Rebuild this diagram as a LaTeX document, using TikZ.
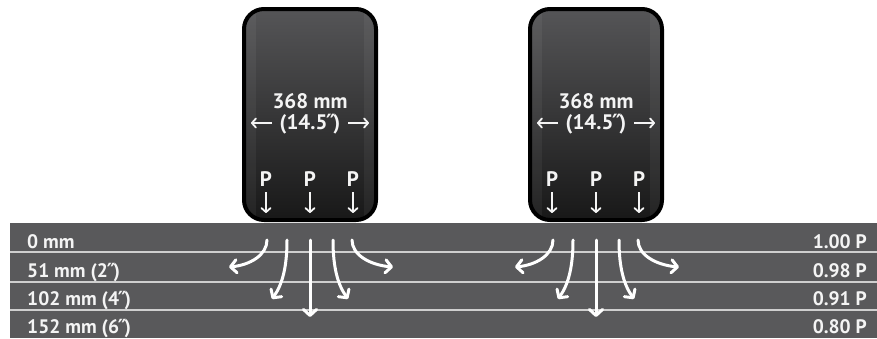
\documentclass[tikz,border=0pt]{standalone}
\usepackage{fontspec}
\setmainfont{PT Sans}
\newfontfamily\primefont{DejaVu Sans}
\newcommand{\inch}{\kern-0.06em{\primefont\bfseries ″}\kern-0.1em}
\usetikzlibrary{arrows.meta,calc}
\definecolor{band}{HTML}{59595B}
\definecolor{rule}{HTML}{CFCFCF}
\definecolor{ink}{HTML}{F4F4F4}
\definecolor{treadtop}{HTML}{555557}
\definecolor{treadmid}{HTML}{4A4A4C}
\definecolor{treadbot}{HTML}{181818}

\begin{document}
\begin{tikzpicture}[x=1pt,y=-1pt,
  lbl/.style={text=ink,font=\bfseries\fontsize{19.5}{21}\selectfont,inner sep=0pt},
  tirelbl/.style={text=ink,font=\bfseries\fontsize{21}{23}\selectfont,inner sep=0pt},
  flow/.style={draw=white,line width=3pt,line cap=round,
    -{Straight Barb[length=6pt,width=13pt,round]}},
  slim/.style={draw=ink,line width=1.8pt,
    -{Straight Barb[length=4pt,width=9pt,round]}},
  tire/.style={rounded corners=20pt}]
\useasboundingbox (0,0) rectangle (877,338);

% ground layers
\fill[band] (10,223) rectangle (877,338);
\foreach \y in {252,282,310}
  \draw[rule,line width=1.5pt] (10,\y) -- (877,\y);

% depth and pressure labels
\node[lbl,anchor=base west] (d0) at (27,248) {0 mm};
\node[lbl,anchor=base west] (d1) at (27,277) {51 mm (2\inch)};
\node[lbl,anchor=base west] (d2) at (27,305) {102 mm (4\inch)};
\node[lbl,anchor=base west] (d3) at (27,333) {152 mm (6\inch)};
\node[lbl,anchor=base east] (r0) at (867,248) {1.00 P};
\node[lbl,anchor=base east] (r1) at (867,277) {0.98 P};
\node[lbl,anchor=base east] (r2) at (867,305) {0.91 P};
\node[lbl,anchor=base east] (r3) at (867,333) {0.80 P};

% two tires with their load spread
\foreach \cx/\t in {310/a,596/b}{
  \begin{scope}[shift={(\cx,0)}]
    \shade[tire,top color=treadtop,middle color=treadmid,bottom color=treadbot]
      (-66,9) rectangle (66,220);
    \begin{scope}
      \clip[tire] (-66,9) rectangle (66,220);
      \fill[white,opacity=0.05] (-64,9) rectangle (-54,220);
      \fill[white,opacity=0.05] (54,9) rectangle (64,220);
    \end{scope}
    \draw[tire,black,line width=4pt] (-66,9) rectangle (66,220);

    \node[tirelbl,anchor=base] (w\t) at (0,108) {368 mm};
    \node[tirelbl,anchor=base] (q\t) at (0,129) {(14.5\inch)};
    % width arrows beside the tread width
    \coordinate (wls\t) at (-38,123);
    \coordinate (wl\t) at (-59,123);
    \coordinate (wrs\t) at (38,123);
    \coordinate (wr\t) at (59,123);
    \draw[slim] (wls\t) -- (wl\t);
    \draw[slim] (wrs\t) -- (wr\t);

    \foreach \px/\k in {-44/1,0/2,43/3}{
      \node[tirelbl,anchor=base] (p\t\k) at (\px,186) {P};
      \coordinate (pd\t\k) at (\px,213);
      \draw[slim] ($(p\t\k.south)+(0,6)$) -- (pd\t\k);
    }

    % contact points and spread directions
    \coordinate (c\t1) at (-43,240);
    \coordinate (c\t2) at (-23,240);
    \coordinate (c\t3) at (0,240);
    \coordinate (c\t4) at (23,240);
    \coordinate (c\t5) at (42,240);
    \coordinate (e\t1) at (-81,267);
    \coordinate (e\t2) at (-38,299);
    \coordinate (e\t3) at (0,317);
    \coordinate (e\t4) at (38,299);
    \coordinate (e\t5) at (83,267);
    \draw[flow] (c\t1) .. controls (-43,255) and (-60,265) .. (e\t1);
    \draw[flow] (c\t2) .. controls (-23,268) and (-28,285) .. (e\t2);
    \draw[flow] (c\t3) -- (e\t3);
    \draw[flow] (c\t4) .. controls (23,268) and (28,285) .. (e\t4);
    \draw[flow] (c\t5) .. controls (42,255) and (60,265) .. (e\t5);
  \end{scope}
}
\end{tikzpicture}
\end{document}
